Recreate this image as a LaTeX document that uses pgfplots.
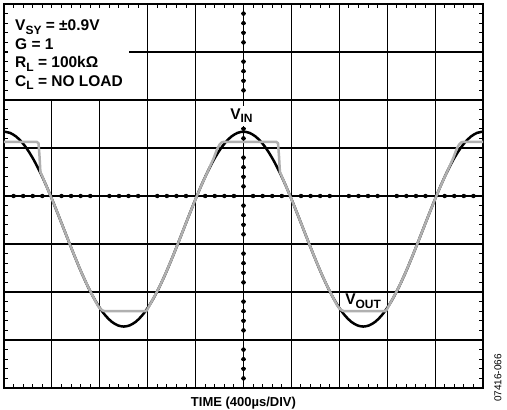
\documentclass[border=0pt]{standalone}
\usepackage{fontspec}
\setmainfont{Liberation Sans}
\usepackage{pgfplots}
\pgfplotsset{compat=1.18}
\newcommand\subs[1]{\raisebox{-3.5bp}{\fontsize{12bp}{12bp}\selectfont #1}}
\definecolor{vout}{gray}{0.69}
\pgfplotstableread{
u v
0 1.340
0.125 1.315
0.25 1.241
0.375 1.119
0.5 0.952
0.625 0.745
0.75 0.503
0.875 0.232
1.0 -0.063
1.125 -0.373
1.25 -0.690
1.375 -1.007
1.5 -1.317
1.625 -1.612
1.75 -1.883
1.875 -2.125
2.0 -2.332
2.125 -2.499
2.25 -2.621
2.375 -2.695
2.5 -2.720
2.625 -2.695
2.75 -2.621
2.875 -2.499
3.0 -2.332
3.125 -2.125
3.25 -1.883
3.375 -1.612
3.5 -1.317
3.625 -1.007
3.75 -0.690
3.875 -0.373
4.0 -0.063
4.125 0.232
4.25 0.503
4.375 0.745
4.5 0.952
4.625 1.119
4.75 1.241
4.875 1.315
5.0 1.340
5.125 1.315
5.25 1.241
5.375 1.119
5.5 0.952
5.625 0.745
5.75 0.503
5.875 0.232
6.0 -0.063
6.125 -0.373
6.25 -0.690
6.375 -1.007
6.5 -1.317
6.625 -1.612
6.75 -1.883
6.875 -2.125
7.0 -2.332
7.125 -2.499
7.25 -2.621
7.375 -2.695
7.5 -2.720
7.625 -2.695
7.75 -2.621
7.875 -2.499
8.0 -2.332
8.125 -2.125
8.25 -1.883
8.375 -1.612
8.5 -1.317
8.625 -1.007
8.75 -0.690
8.875 -0.373
9.0 -0.063
9.125 0.232
9.25 0.503
9.375 0.745
9.5 0.952
9.625 1.119
9.75 1.241
9.875 1.315
10.0 1.340
}\vin
\pgfplotstableread{
u v
0 1.13
0.68 1.13
0.72 1.10
0.74 0.85
0.76 0.50
0.875 0.232
1.0 -0.063
1.125 -0.373
1.25 -0.690
1.375 -1.007
1.5 -1.317
1.625 -1.612
1.75 -1.883
1.875 -2.125
1.95 -2.27
2.0 -2.34
2.05 -2.38
2.1 -2.40
2.96 -2.40
2.99 -2.37
3.19 -2.00
3.25 -1.883
3.375 -1.612
3.5 -1.317
3.625 -1.007
3.75 -0.690
3.875 -0.373
4.0 -0.063
4.125 0.232
4.25 0.503
4.375 0.78
4.45 0.98
4.5 1.07
4.55 1.12
4.6 1.13
5.68 1.13
5.72 1.10
5.74 0.85
5.76 0.50
5.875 0.232
6.0 -0.063
6.125 -0.373
6.25 -0.690
6.375 -1.007
6.5 -1.317
6.625 -1.612
6.75 -1.883
6.875 -2.125
6.95 -2.27
7.0 -2.34
7.05 -2.38
7.1 -2.40
7.96 -2.40
7.99 -2.37
8.19 -2.00
8.25 -1.883
8.375 -1.612
8.5 -1.317
8.625 -1.007
8.75 -0.690
8.875 -0.373
9.0 -0.063
9.125 0.232
9.25 0.503
9.375 0.78
9.45 0.98
9.5 1.07
9.55 1.12
9.6 1.13
10 1.13
}\vout
\begin{document}
\begin{tikzpicture}
\begin{axis}[name=ax, scale only axis, width=479bp, height=384bp,
  xmin=0, xmax=10, ymin=-4, ymax=4,
  xtick={0,...,10}, ytick={-4,...,4}, minor tick num=4,
  xticklabels={}, yticklabels={},
  grid=major, major grid style={black, line width=1.1bp},
  tick align=inside, major tick length=4bp, minor tick length=4bp,
  every tick/.style={black, line width=1bp},
  axis line style={line width=1.6bp},
  clip=false]
\fill[white] (axis cs:0.09,3.91) rectangle (axis cs:2.6,2.03);
% crossing ticks on the horizontal centre line
\addplot[only marks, mark=none, forget plot,
  error bars/.cd, y dir=both, y fixed=0.052, error mark=none,
  error bar style={black, solid, line width=0.9bp}]
  coordinates {(0.2,0)(0.4,0)(0.6,0)(0.8,0)(1.2,0)(1.4,0)(1.6,0)(1.8,0)
  (2.2,0)(2.4,0)(2.6,0)(2.8,0)(3.2,0)(3.4,0)(3.6,0)(3.8,0)
  (4.2,0)(4.4,0)(4.6,0)(4.8,0)(5.2,0)(5.4,0)(5.6,0)(5.8,0)
  (6.2,0)(6.4,0)(6.6,0)(6.8,0)(7.2,0)(7.4,0)(7.6,0)(7.8,0)
  (8.2,0)(8.4,0)(8.6,0)(8.8,0)(9.2,0)(9.4,0)(9.6,0)(9.8,0)};
% crossing ticks on the vertical centre line
\addplot[only marks, mark=none, forget plot,
  error bars/.cd, x dir=both, x fixed=0.062, error mark=none,
  error bar style={black, solid, line width=0.9bp}]
  coordinates {(5,-3.8)(5,-3.6)(5,-3.4)(5,-3.2)(5,-2.8)(5,-2.6)(5,-2.4)(5,-2.2)
  (5,-1.8)(5,-1.6)(5,-1.4)(5,-1.2)(5,-0.8)(5,-0.6)(5,-0.4)(5,-0.2)
  (5,0.2)(5,0.4)(5,0.6)(5,0.8)(5,1.2)(5,1.4)(5,1.6)(5,1.8)
  (5,2.2)(5,2.4)(5,2.6)(5,2.8)(5,3.2)(5,3.4)(5,3.6)(5,3.8)};
\addplot[black, line width=2.5bp, smooth, no markers] table[x=u,y=v] {\vin};
\addplot[vout, line width=2.5bp, line join=round, no markers] table[x=u,y=v] {\vout};
\coordinate (l1) at (axis cs:0.23,3.444);
\coordinate (l2) at (axis cs:0.23,3.058);
\coordinate (l3) at (axis cs:0.23,2.673);
\coordinate (l4) at (axis cs:0.23,2.288);
\coordinate (lin) at (axis cs:4.657,1.60);
\coordinate (lout) at (axis cs:7.12,-2.27);
\end{axis}
\tikzset{lab/.style={anchor=base west, font=\bfseries\fontsize{15.5bp}{15.5bp}\selectfont, inner sep=0pt}}
\node[lab] at (l1) {V\subs{SY} = ±0.9V};
\node[lab] at (l2) {G = 1};
\node[lab] at (l3) {R\subs{L} = 100kΩ};
\node[lab] at (l4) {C\subs{L} = NO LOAD};
\node[lab, fill=white, inner sep=3bp] at (lin) {V\subs{IN}};
\node[lab] at (lout) {V\subs{OUT}};
\node[font=\bfseries\fontsize{13bp}{13bp}\selectfont, anchor=base, inner sep=0pt] at ([yshift=-18bp]ax.south) {TIME (400µs/DIV)};
\node[rotate=90, font=\fontsize{10bp}{10bp}\selectfont, anchor=center, inner sep=0pt] at ([xshift=15bp,yshift=10bp]ax.south east) {07416-066};
\pgfresetboundingbox
\path ([shift={(-4bp,-22bp)}]ax.south west) rectangle ([shift={(24bp,4bp)}]ax.north east);
\end{tikzpicture}
\end{document}
